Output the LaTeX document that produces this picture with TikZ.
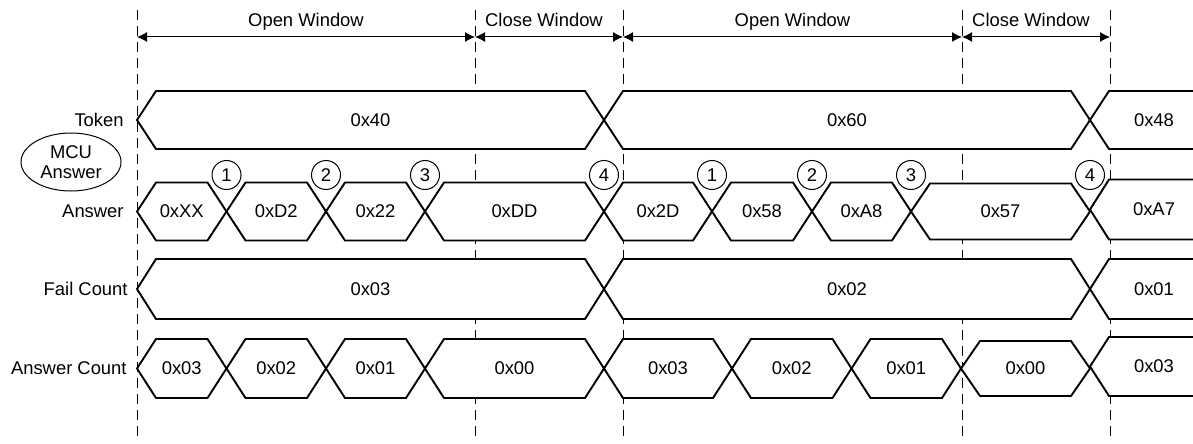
\documentclass[tikz,border=0pt]{standalone}
\usepackage{fontspec}
\setmainfont{Liberation Sans}
\usetikzlibrary{arrows.meta}
\usetikzlibrary{shapes.geometric}

\tikzset{
	txt/.style={font=\fontsize{9.2}{10}\selectfont, inner sep=0pt},
	siglabel/.style={txt, anchor=east},
	bus/.style={draw=black, fill=white, line width=0.95pt, line join=miter},
	winline/.style={line width=0.5pt, dash pattern=on 5pt off 3pt},
	span/.style={line width=0.5pt, {Latex[length=5pt,width=5pt]}-{Latex[length=5pt,width=5pt]}},
	event/.style={txt, circle, draw, fill=white, line width=0.5pt, minimum size=14.5pt}
}

\begin{document}
\begin{tikzpicture}[x=0.5pt,y=-0.5pt]
		\useasboundingbox (0,0) rectangle (1193,444);
		\def\slant{19}   % half width of a transition
		\def\yTop{10}    % top of window lines
		\def\yBot{438}   % bottom of window lines
		\def\yArr{37}    % window arrows
		
		% window borders
		\foreach \x [count=\i from 0] in {137,475,623,962,1110}{
			\draw[winline] (\x,\yTop) -- (\x,\yBot);
			\coordinate (w\i) at (\x,\yArr);
		}
		
		\draw[span] (w0) -- node[txt, midway, anchor=base, yshift=5pt] (ow1) {Open Window} (w1);
		\draw[span] (w1) -- node[txt, midway, anchor=base, yshift=5pt, xshift=-2.5pt] (cw1) {Close Window} (w2);
		\draw[span] (w2) -- node[txt, midway, anchor=base, yshift=5pt] (ow2) {Open Window} (w3);
		\draw[span] (w3) -- node[txt, midway, anchor=base, yshift=5pt, xshift=-2.5pt] (cw2) {Close Window} (w4);
		
		% signal names
		\node[siglabel] (token) at (124,120) {Token};
		\node[siglabel] (answer) at (124,211.5) {Answer};
		\node[siglabel] (fail) at (128,289) {Fail Count};
		\node[siglabel] (count) at (127,368.5) {Answer Count};
		\node[txt, ellipse, draw, line width=0.5pt, align=center, minimum width=50pt, minimum height=29pt] (mcu) at (71,162) {MCU\\Answer};
		
		% bus values: start/end/top/bottom/value/name
		\begin{scope}
			\clip (0,0) rectangle (1193,444);
			\foreach \a/\b/\t/\u/\v/\n in {
				137/604/91/149/0x40/tk1, 604/1090/91/149/0x60/tk2, 1090/1218/91/149/0x48/tk3,
				137/226.5/182.5/240.5/0xXX/an1, 226.5/326/182.5/240.5/0xD2/an2,
				326/425/182.5/240.5/0x22/an3, 425/604/182.5/240.5/0xDD/an4,
				604/712/182.5/240.5/0x2D/an5, 712/812/182.5/240.5/0x58/an6,
				812/911/182.5/240.5/0xA8/an7, 911/1090/183.5/239.5/0x57/an8,
				1090/1218/179.5/239.5/0xA7/an9,
				137/604/259/319/0x03/fc1, 604/1090/259/319/0x02/fc2, 1090/1218/259/319/0x01/fc3,
				137/226.5/339/398/0x03/ac1, 226.5/326/339/398/0x02/ac2,
				326/425/339/398/0x01/ac3, 425/604/339/398/0x00/ac4,
				604/732/339/398/0x03/ac5, 732/851.5/339/398/0x02/ac6,
				851.5/961/339/398/0x01/ac7, 961/1090/341/396/0x00/ac8,
				1090/1218/337/396/0x03/ac9}{
				\filldraw[bus] (\a,{(\t+\u)/2}) -- ({\a+\slant},\t) -- ({\b-\slant},\t)
					-- (\b,{(\t+\u)/2}) -- ({\b-\slant},\u) -- ({\a+\slant},\u) -- cycle;
				\node[txt] (\n) at ({(\a+\b)/2},{(\t+\u)/2}) {\v};
			}
		\end{scope}
		
		% answer events
		\foreach \x [count=\i] in {226.5,326,425,604,712,812,911,1090}{
			\pgfmathtruncatemacro{\k}{mod(\i-1,4)+1}
			\node[event] (ev\i) at (\x,175) {\k};
		}
		
	\end{tikzpicture}
\end{document}
